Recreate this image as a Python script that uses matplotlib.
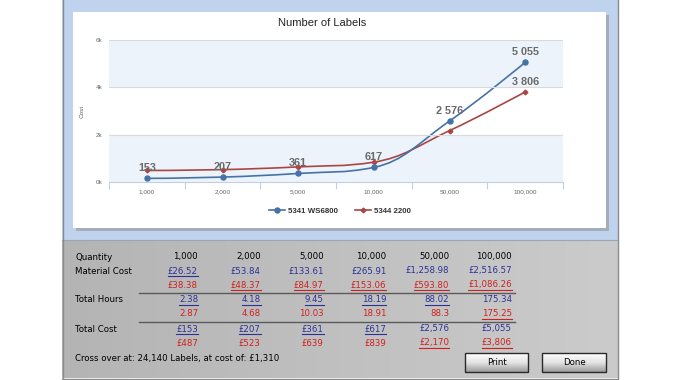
import numpy as np
import matplotlib.pyplot as plt
from matplotlib.path import Path
from matplotlib.patches import PathPatch, Rectangle
from matplotlib.colors import LinearSegmentedColormap

# data
quantities = ['1,000', '2,000', '5,000', '10,000', '50,000', '100,000']
series_names = ['5341 WS6800', '5344 2200']
mat_blue = [26.52, 53.84, 133.61, 265.91, 1258.98, 2516.57]
mat_red = [38.38, 48.37, 84.97, 153.06, 593.80, 1086.26]
hours_blue = [2.38, 4.18, 9.45, 18.19, 88.02, 175.34]
hours_red = [2.87, 4.68, 10.03, 18.91, 88.3, 175.25]
cost_blue = [153, 207, 361, 617, 2576, 5055]
cost_red = [487, 523, 639, 839, 2170, 3806]
crossover_text = 'Cross over at: 24,140 Labels, at cost of: £1,310'

BLUE = '#4572a7'
RED = '#aa4643'
TXT_BLUE = '#2b3196'
TXT_RED = '#d0201e'


def spline_path(xs, ys, smooth=1.5):
    # highcharts-like spline through the points
    n = len(xs)
    lefts, rights = [None] * n, [None] * n
    for i in range(n):
        x, y = xs[i], ys[i]
        if 0 < i < n - 1:
            lx, ly, nx, ny = xs[i - 1], ys[i - 1], xs[i + 1], ys[i + 1]
            d = smooth + 1
            lcx, lcy = (smooth * x + lx) / d, (smooth * y + ly) / d
            rcx, rcy = (smooth * x + nx) / d, (smooth * y + ny) / d
            corr = (rcy - lcy) * (rcx - x) / (rcx - lcx) + y - rcy
            lcy += corr
            rcy += corr
            if lcy > ly and lcy > y:
                lcy = max(ly, y); rcy = 2 * y - lcy
            elif lcy < ly and lcy < y:
                lcy = min(ly, y); rcy = 2 * y - lcy
            if rcy > ny and rcy > y:
                rcy = max(ny, y); lcy = 2 * y - rcy
            elif rcy < ny and rcy < y:
                rcy = min(ny, y); lcy = 2 * y - rcy
            lefts[i], rights[i] = (lcx, lcy), (rcx, rcy)
        else:
            lefts[i] = rights[i] = (x, y)
    verts = [(xs[0], ys[0])]
    codes = [Path.MOVETO]
    for i in range(1, n):
        verts += [rights[i - 1], lefts[i], (xs[i], ys[i])]
        codes += [Path.CURVE4] * 3
    return Path(verts, codes)


W, H = 680, 380
fig = plt.figure(figsize=(6.8, 3.8), dpi=100)
bg = fig.add_axes([0, 0, 1, 1])
bg.axis('off')

# window background
bg.add_patch(Rectangle((62, 0), 556, 240, fc='#bfd3ee', ec='none'))
metal = LinearSegmentedColormap.from_list('metal', ['#b4b4b4', '#c0c0c0', '#cbcbcb'])
bg.imshow(np.tile(np.linspace(0, 1, 200), (4, 1)), extent=(62, 618, 378, 240),
          cmap=metal, aspect='auto', zorder=0)
bg.plot([62, 618], [240, 240], color='#9aa6b6', lw=0.8)
bg.plot([62.5, 62.5], [0, 378], color='#8a8a8a', lw=1)
bg.plot([617.5, 617.5], [0, 378], color='#8a8a8a', lw=1)
bg.plot([62, 618], [378.5, 378.5], color='#8a8a8a', lw=1)

# chart card with shadow
bg.add_patch(Rectangle((76, 15), 533, 216, fc='#8f8f8f', ec='none', alpha=0.55))
bg.add_patch(Rectangle((73, 12), 533, 216, fc='white', ec='none'))

# table
col_right = [198 + i * 62.8 for i in range(6)]
row_y = {'q': 257, 'm1': 271, 'm2': 285, 'h1': 300, 'h2': 314, 'c1': 329, 'c2': 343}
font = dict(family='DejaVu Sans', fontsize=6.2)

bg.text(75, row_y['q'], 'Quantity', va='center', color='black', **font)
bg.text(75, row_y['m1'], 'Material Cost', va='center', color='black', **font)
bg.text(75, row_y['h1'], 'Total Hours', va='center', color='black', **font)
bg.text(75, row_y['c1'], 'Total Cost', va='center', color='black', **font)
bg.text(75, 359, crossover_text, va='center', color='black', **font)

for x, q in zip(col_right, quantities):
    bg.text(x, row_y['q'], q, ha='right', va='center', color='black', **font)

underlined = []
rows = [
    ('m', mat_blue, mat_red, lambda v: '£{:,.2f}'.format(v)),
    ('h', hours_blue, hours_red, lambda v: '{:g}'.format(v)),
    ('c', cost_blue, cost_red, lambda v: '£{:,}'.format(v)),
]
for key, vb, vr, fmt in rows:
    for i, x in enumerate(col_right):
        tb = bg.text(x, row_y[key + '1'], fmt(vb[i]), ha='right', va='center', color=TXT_BLUE, **font)
        tr = bg.text(x, row_y[key + '2'], fmt(vr[i]), ha='right', va='center', color=TXT_RED, **font)
        # the cheaper one is underlined
        if vb[i] < vr[i]:
            underlined.append((tb, x, row_y[key + '1'], TXT_BLUE))
        else:
            underlined.append((tr, x, row_y[key + '2'], TXT_RED))

bg.plot([139, 515], [292.5, 292.5], color='#5a5a5a', lw=1)
bg.plot([139, 515], [321.5, 321.5], color='#5a5a5a', lw=1)

# buttons
grad = LinearSegmentedColormap.from_list('btn', ['#ffffff', '#e4e4e4', '#9c9c9c'])
for (x0, x1), label in [((465, 528), 'Print'), ((542, 606), 'Done')]:
    r = Rectangle((x0, 353), x1 - x0, 19, fc='none', ec='#2a2a2a', lw=1, zorder=3)
    bg.add_patch(r)
    im = bg.imshow(np.linspace(0, 1, 50).reshape(-1, 1), extent=(x0, x1, 372, 353),
                   cmap=grad, aspect='auto', zorder=2)
    im.set_clip_path(r)
    bg.text((x0 + x1) / 2, 362.5, label, ha='center', va='center', color='black',
            family='DejaVu Sans', fontsize=6.2, zorder=4)

bg.set_xlim(0, W)
bg.set_ylim(H, 0)

# chart
ax = fig.add_axes([109 / W, (H - 182) / H, 454 / W, 142 / H])
ax.set_zorder(2)
ax.set_facecolor('white')
xs = np.arange(len(quantities))
ax.set_xlim(-0.5, len(quantities) - 0.5)
ax.set_ylim(0, 6000)
ax.axhspan(0, 2000, color='#edf3fb', lw=0)
ax.axhspan(4000, 6000, color='#edf3fb', lw=0)
for gy in [2000, 4000, 6000]:
    ax.axhline(gy, color='#dadada', lw=0.8)

handles = {}
for vals, col, mk, ms, name in [(cost_red, RED, 'D', 2.4, series_names[1]),
                                (cost_blue, BLUE, 'o', 3.6, series_names[0])]:
    ax.add_patch(PathPatch(spline_path(xs, vals), fc='none', ec=col, lw=1.2))
    ax.plot(xs, vals, ls='none', marker=mk, ms=ms, color=col)
    handles[name], = ax.plot([], [], color=col, lw=1.2, marker=mk, ms=ms, label=name)

lab = dict(textcoords='offset points', ha='center', va='center', color='#6a6a6a',
           fontsize=7.8, fontweight='bold', family='Liberation Sans')
for x, v in zip(xs, cost_blue):
    ax.annotate('{:,}'.format(v).replace(',', ' '), (x, v), xytext=(0, 7.5), **lab)
ax.annotate('{:,}'.format(cost_red[-1]).replace(',', ' '), (xs[-1], cost_red[-1]),
            xytext=(0, 7.5), **lab)

for s in ['top', 'right', 'left']:
    ax.spines[s].set_visible(False)
ax.spines['bottom'].set_color('#c0d0e0')
ax.set_xticks(xs)
ax.set_xticklabels(quantities)
ax.set_xticks(np.arange(-0.5, len(quantities)), minor=True)
ax.tick_params(axis='x', which='major', length=0, pad=5.5, labelsize=4.6, labelcolor='#666666')
ax.tick_params(axis='x', which='minor', length=5, color='#c0d0e0', width=0.8)
ax.set_yticks([0, 2000, 4000, 6000])
ax.set_yticklabels(['0k', '2k', '4k', '6k'])
ax.tick_params(axis='y', length=0, pad=4.5, labelsize=4.6, labelcolor='#666666')
for t in ax.get_xticklabels() + ax.get_yticklabels():
    t.set_family('Liberation Sans')
ax.set_ylabel('Cost', fontsize=4.6, color='#666666', family='Liberation Sans')
ax.yaxis.set_label_coords((85 - 109) / 454, 0.5)
ax.set_title('Number of Labels', fontsize=8, family='Liberation Sans', color='#222222',
             x=(322 - 109) / 454, pad=10.2)

leg = ax.legend([handles[n] for n in series_names], series_names,
                loc='center', bbox_to_anchor=(340 / W, 1 - 211 / H), bbox_transform=fig.transFigure,
                ncol=2, frameon=False, handlelength=2.0, handletextpad=0.4, columnspacing=2.2,
                prop={'family': 'Liberation Sans', 'weight': 'bold', 'size': 5.7})
for t in leg.get_texts():
    t.set_color('#333333')

# underline the cheaper values
fig.canvas.draw()
rend = fig.canvas.get_renderer()
for t, x, y, col in underlined:
    w = t.get_window_extent(rend).width
    bg.plot([x - w, x], [y + 5, y + 5], color=col, lw=0.8)
bg.set_xlim(0, W)
bg.set_ylim(H, 0)

fig.savefig('out.png', dpi=100)
